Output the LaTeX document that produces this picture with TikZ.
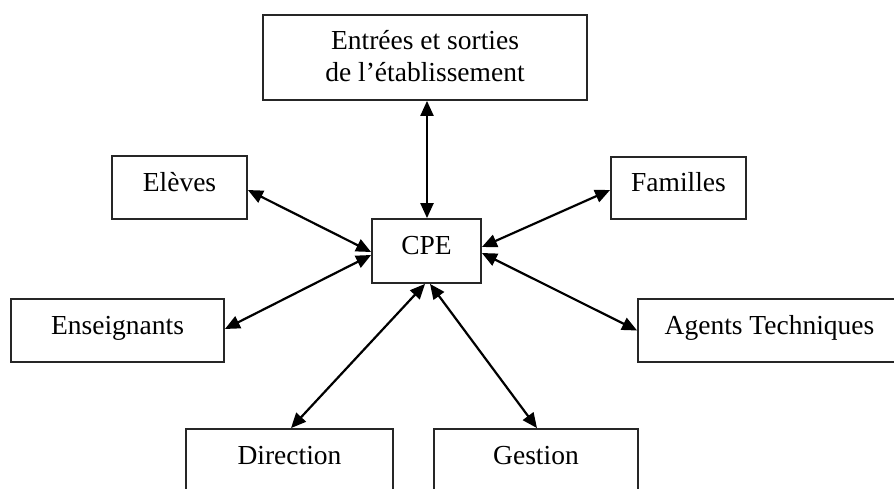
\documentclass[tikz,border=0pt]{standalone}
\usepackage{fontspec}
\setmainfont{Liberation Serif}
\usetikzlibrary{arrows.meta}
\begin{document}
\begin{tikzpicture}[x=1pt,y=-1pt,
  box/.style={draw=black!85, line width=1.8pt, inner sep=0pt, font=\fontsize{27.5}{32}\selectfont, text height=18pt, text depth=11pt},
  lbl/.style={inner sep=0pt, font=\fontsize{27.5}{32}\selectfont},
  link/.style={line width=2.2pt, {Triangle[length=15pt,width=13pt]}-{Triangle[length=15pt,width=13pt]}}]
\useasboundingbox (0,0) rectangle (894,488);
\node[box, minimum width=324pt, minimum height=85pt] (top) at (425,57.5) {};
\node[lbl, anchor=base] (top1) at (425,49) {Entrées et sorties};
\node[lbl, anchor=base] (top2) at (425,81) {de l’établissement};
\node[box, minimum width=135pt, minimum height=63pt] (eleves) at (179.5,187.5) {Elèves};
\node[box, minimum width=135pt, minimum height=62pt] (familles) at (678.5,188) {Familles};
\node[box, minimum width=109pt, minimum height=64pt] (cpe) at (426.5,251) {CPE};
\node[box, minimum width=213pt, minimum height=63pt] (ens) at (117.5,330.5) {Enseignants};
\node[box, minimum width=263pt, minimum height=63pt] (agents) at (769.5,330.5) {Agents Techniques};
\node[box, minimum width=207pt, minimum height=63pt] (dir) at (289.5,460.5) {Direction};
\node[box, minimum width=204pt, minimum height=63pt] (gest) at (536,460.5) {Gestion};
\draw[link] ([xshift=2pt]top.south) -- ([xshift=0.5pt]cpe.north);
\draw[link] ([yshift=-2.5pt]eleves.east) -- ([yshift=-1pt]cpe.west);
\draw[link] ([yshift=-2pt]familles.west) -- ([yshift=4pt]cpe.east);
\draw[link] ([yshift=1.5pt]ens.east) -- ([yshift=-4pt]cpe.west);
\draw[link] (agents.west) -- ([yshift=-2pt]cpe.east);
\draw[link] ([xshift=1.5pt]dir.north) -- ([xshift=-1.5pt]cpe.south);
\draw[link] ([xshift=1pt]gest.north) -- ([xshift=3.5pt]cpe.south);
\end{tikzpicture}
\end{document}
